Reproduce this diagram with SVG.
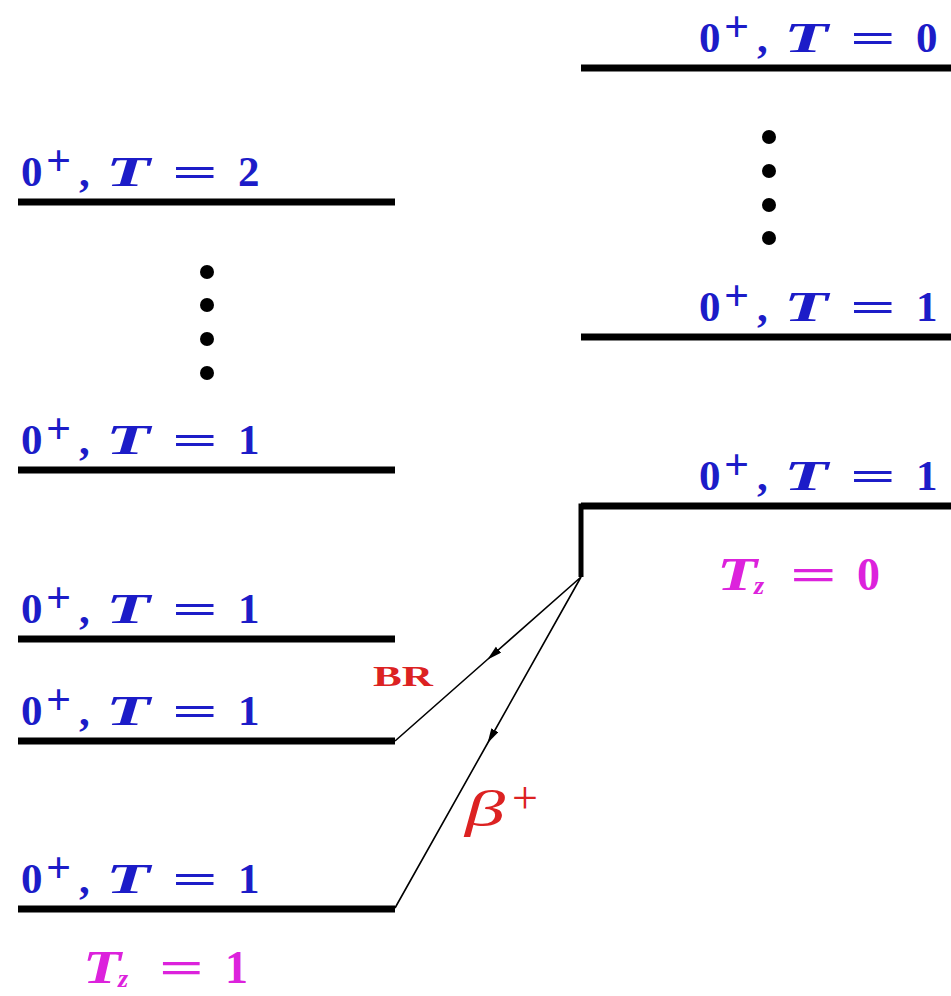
<svg xmlns="http://www.w3.org/2000/svg" width="951" height="996" viewBox="0 0 951 996">
<defs>
<style>
.lvl{stroke:#000;stroke-width:7;fill:none}
.lbl{font-family:"Liberation Serif",serif;font-weight:bold;font-size:43px;fill:#1c1cc8}
.it{font-style:italic}
.sup{font-size:44px}
.tz{font-family:"Liberation Serif",serif;font-weight:bold;font-size:46px;fill:#dc22dc}
.red{font-family:"Liberation Serif",serif;font-weight:bold;fill:#dc2222}
.dot{fill:#000}
.conn{stroke:#000;stroke-width:1.6;fill:none}
</style>
<marker id="ah" markerUnits="userSpaceOnUse" markerWidth="16" markerHeight="10" refX="14" refY="4" orient="auto">
<path d="M0,0 L15,4 L0,8 z" fill="#000"/>
</marker>
</defs>
<rect width="951" height="996" fill="#fff"/>

<g id="L_T2">
<line class="lvl" x1="18" y1="202" x2="395" y2="202"/>
<text class="lbl" transform="translate(22,186)"><tspan x="-1" y="0">0</tspan><tspan class="sup" x="24" y="-11">+</tspan><tspan x="57" y="0">,</tspan><tspan class="it" x="84" y="0" textLength="44" lengthAdjust="spacingAndGlyphs">T</tspan><tspan x="150" y="0" textLength="46" lengthAdjust="spacingAndGlyphs">=</tspan><tspan x="216" y="0">2</tspan></text>
</g>
<g id="L_dots">
<circle class="dot" cx="207" cy="272" r="7"/>
<circle class="dot" cx="207" cy="305" r="7"/>
<circle class="dot" cx="207" cy="339" r="7"/>
<circle class="dot" cx="207" cy="373" r="7"/>
</g>
<g id="L_T1a">
<line class="lvl" x1="18" y1="470" x2="395" y2="470"/>
<text class="lbl" transform="translate(22,454)"><tspan x="-1" y="0">0</tspan><tspan class="sup" x="24" y="-11">+</tspan><tspan x="57" y="0">,</tspan><tspan class="it" x="84" y="0" textLength="44" lengthAdjust="spacingAndGlyphs">T</tspan><tspan x="150" y="0" textLength="46" lengthAdjust="spacingAndGlyphs">=</tspan><tspan x="216" y="0">1</tspan></text>
</g>
<g id="L_T1b">
<line class="lvl" x1="18" y1="639" x2="395" y2="639"/>
<text class="lbl" transform="translate(22,623)"><tspan x="-1" y="0">0</tspan><tspan class="sup" x="24" y="-11">+</tspan><tspan x="57" y="0">,</tspan><tspan class="it" x="84" y="0" textLength="44" lengthAdjust="spacingAndGlyphs">T</tspan><tspan x="150" y="0" textLength="46" lengthAdjust="spacingAndGlyphs">=</tspan><tspan x="216" y="0">1</tspan></text>
</g>
<g id="L_T1c">
<line class="lvl" x1="18" y1="741" x2="395" y2="741"/>
<text class="lbl" transform="translate(22,725)"><tspan x="-1" y="0">0</tspan><tspan class="sup" x="24" y="-11">+</tspan><tspan x="57" y="0">,</tspan><tspan class="it" x="84" y="0" textLength="44" lengthAdjust="spacingAndGlyphs">T</tspan><tspan x="150" y="0" textLength="46" lengthAdjust="spacingAndGlyphs">=</tspan><tspan x="216" y="0">1</tspan></text>
</g>
<g id="L_T1d">
<line class="lvl" x1="18" y1="909" x2="395" y2="909"/>
<text class="lbl" transform="translate(22,893)"><tspan x="-1" y="0">0</tspan><tspan class="sup" x="24" y="-11">+</tspan><tspan x="57" y="0">,</tspan><tspan class="it" x="84" y="0" textLength="44" lengthAdjust="spacingAndGlyphs">T</tspan><tspan x="150" y="0" textLength="46" lengthAdjust="spacingAndGlyphs">=</tspan><tspan x="216" y="0">1</tspan></text>
</g>
<g id="L_Tz">
<text class="tz" transform="translate(83,983)"><tspan class="it" x="0" y="0" textLength="38" lengthAdjust="spacingAndGlyphs">T</tspan><tspan class="it" x="35" y="4" style="font-size:26px">z</tspan><tspan x="76" y="0" textLength="45" lengthAdjust="spacingAndGlyphs">=</tspan><tspan x="142" y="0">1</tspan></text>
</g>

<g id="R_T0">
<line class="lvl" x1="581" y1="68" x2="951" y2="68"/>
<text class="lbl" transform="translate(700,52)"><tspan x="-1" y="0">0</tspan><tspan class="sup" x="24" y="-11">+</tspan><tspan x="57" y="0">,</tspan><tspan class="it" x="84" y="0" textLength="44" lengthAdjust="spacingAndGlyphs">T</tspan><tspan x="150" y="0" textLength="46" lengthAdjust="spacingAndGlyphs">=</tspan><tspan x="216" y="0">0</tspan></text>
</g>
<g id="R_dots">
<circle class="dot" cx="769" cy="137" r="7"/>
<circle class="dot" cx="769" cy="171" r="7"/>
<circle class="dot" cx="769" cy="205" r="7"/>
<circle class="dot" cx="769" cy="238" r="7"/>
</g>
<g id="R_T1a">
<line class="lvl" x1="581" y1="337" x2="951" y2="337"/>
<text class="lbl" transform="translate(700,321)"><tspan x="-1" y="0">0</tspan><tspan class="sup" x="24" y="-11">+</tspan><tspan x="57" y="0">,</tspan><tspan class="it" x="84" y="0" textLength="44" lengthAdjust="spacingAndGlyphs">T</tspan><tspan x="150" y="0" textLength="46" lengthAdjust="spacingAndGlyphs">=</tspan><tspan x="216" y="0">1</tspan></text>
</g>
<g id="R_T1b">
<polyline class="lvl" points="581,577 581,506 951,506" style="stroke-width:5"/>
<line class="lvl" x1="581" y1="506" x2="951" y2="506"/>
<text class="lbl" transform="translate(700,490)"><tspan x="-1" y="0">0</tspan><tspan class="sup" x="24" y="-11">+</tspan><tspan x="57" y="0">,</tspan><tspan class="it" x="84" y="0" textLength="44" lengthAdjust="spacingAndGlyphs">T</tspan><tspan x="150" y="0" textLength="46" lengthAdjust="spacingAndGlyphs">=</tspan><tspan x="216" y="0">1</tspan></text>
</g>
<g id="R_Tz">
<text class="tz" transform="translate(717,590)"><tspan class="it" x="0" y="0" textLength="40" lengthAdjust="spacingAndGlyphs">T</tspan><tspan class="it" x="37" y="4" style="font-size:26px">z</tspan><tspan x="73" y="0" textLength="47" lengthAdjust="spacingAndGlyphs">=</tspan><tspan x="140" y="0">0</tspan></text>
</g>

<g id="connectors">
<polyline class="conn" points="581,577 488,659 395,741" marker-mid="url(#ah)"/>
<polyline class="conn" points="581,577 488,742.5 395,908" marker-mid="url(#ah)"/>
<text class="red" x="373" y="686" style="font-size:30px" textLength="60" lengthAdjust="spacingAndGlyphs">BR</text>
<text class="red" x="465" y="826" style="font-size:50px;font-weight:normal"><tspan class="it" textLength="40" lengthAdjust="spacingAndGlyphs">β</tspan><tspan x="512" y="813" style="font-size:46px">+</tspan></text>
</g>
</svg>
